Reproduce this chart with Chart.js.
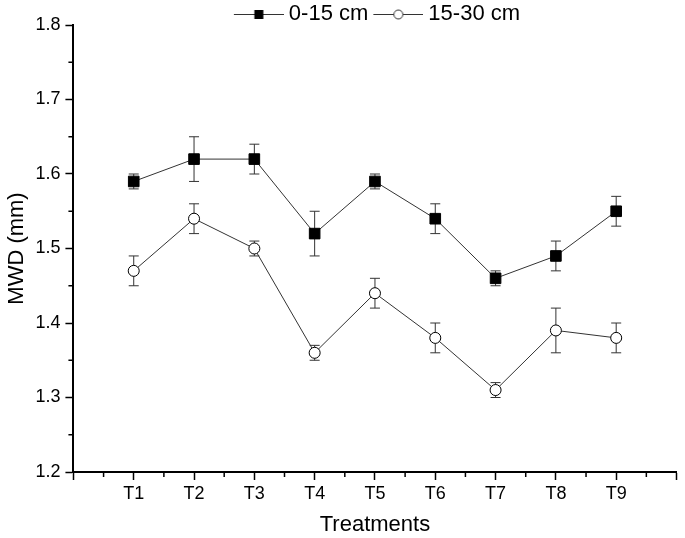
<!DOCTYPE html>
<html>
<head>
<meta charset="utf-8">
<script src="https://cdn.jsdelivr.net/npm/chart.js@4.4.0/dist/chart.umd.min.js"></script>
<style>
  html, body { margin: 0; padding: 0; background: #fff; }
  #wrap { width: 685px; height: 538px; }
</style>
</head>
<body>
<div id="wrap"><canvas id="mwd-chart" width="685" height="538"></canvas></div>
<script>
const categories = ["T1", "T2", "T3", "T4", "T5", "T6", "T7", "T8", "T9"];
const seriesNames = ["0-15 cm", "15-30 cm"];
const mwdTop = [1.59, 1.62, 1.62, 1.52, 1.59, 1.54, 1.46, 1.49, 1.55];
const errTop = [0.01, 0.03, 0.02, 0.03, 0.01, 0.02, 0.01, 0.02, 0.02];
const mwdSub = [1.47, 1.54, 1.50, 1.36, 1.44, 1.38, 1.31, 1.39, 1.38];
const errSub = [0.02, 0.02, 0.01, 0.01, 0.02, 0.02, 0.01, 0.03, 0.02];
const yMin = 1.2;
const yMax = 1.8;
const yStep = 0.1;

const FONT = "'Liberation Sans', Arial, sans-serif";
const INK = "#000";
const LINE = "#333";

// line+marker picture for the legend, line sits at the right of the canvas
function legendIcon(kind) {
  const c = document.createElement("canvas");
  c.width = 60;
  c.height = 14;
  const g = c.getContext("2d");
  g.strokeStyle = LINE;
  g.lineWidth = 1;
  g.beginPath();
  g.moveTo(10, 7.5);
  g.lineTo(60, 7.5);
  g.stroke();
  if (kind === "rect") {
    g.fillStyle = INK;
    g.fillRect(30.5, 3, 9, 9);
  } else {
    g.fillStyle = "#fff";
    g.beginPath();
    g.arc(35, 7.5, 4.5, 0, Math.PI * 2);
    g.fill();
    g.stroke();
  }
  return c;
}

const toPoints = vals => vals.map((v, i) => ({ x: i + 1, y: v }));

const errorBars = {
  id: "errorBars",
  beforeDatasetsDraw(chart) {
    const { ctx, scales: { y } } = chart;
    ctx.save();
    ctx.strokeStyle = LINE;
    ctx.lineWidth = 1;
    chart.data.datasets.forEach((ds, i) => {
      const meta = chart.getDatasetMeta(i);
      meta.data.forEach((pt, j) => {
        const v = ds.data[j].y;
        const e = ds.errors[j];
        const top = y.getPixelForValue(v + e);
        const bot = y.getPixelForValue(v - e);
        ctx.beginPath();
        ctx.moveTo(pt.x, top);
        ctx.lineTo(pt.x, bot);
        ctx.moveTo(pt.x - 5, top);
        ctx.lineTo(pt.x + 5, top);
        ctx.moveTo(pt.x - 5, bot);
        ctx.lineTo(pt.x + 5, bot);
        ctx.stroke();
      });
    });
    ctx.restore();
  }
};

const minorTicks = {
  id: "minorTicks",
  afterDraw(chart) {
    const { ctx, scales: { x, y } } = chart;
    ctx.save();
    ctx.strokeStyle = INK;
    ctx.lineWidth = 1.5;
    ctx.beginPath();
    for (let v = 0.5; v < categories.length + 1; v += 1) {
      const px = x.getPixelForValue(v);
      ctx.moveTo(px, x.top);
      ctx.lineTo(px, x.top + 5);
    }
    for (let v = yMin + yStep / 2; v < yMax; v += yStep) {
      const py = y.getPixelForValue(v);
      ctx.moveTo(y.right, py);
      ctx.lineTo(y.right - 5, py);
    }
    ctx.stroke();
    ctx.restore();
  }
};

// the legend reserves 10px of extra space below itself; take it back
const tightLegend = {
  id: "tightLegend",
  afterInit(chart) {
    const lg = chart.legend;
    if (!lg) return;
    const fit = lg.fit;
    lg.fit = function () {
      fit.call(this);
      this.height = Math.max(0, this.height - 10);
    };
  }
};

const icons = [legendIcon("rect"), legendIcon("circle")];

new Chart(document.getElementById("mwd-chart"), {
  type: "line",
  data: {
    datasets: [
      {
        label: seriesNames[0],
        data: toPoints(mwdTop),
        errors: errTop,
        borderColor: LINE,
        borderWidth: 1,
        pointStyle: "rect",
        pointRadius: 7.5,
        pointBackgroundColor: INK,
        pointBorderColor: INK,
        pointBorderWidth: 1
      },
      {
        label: seriesNames[1],
        data: toPoints(mwdSub),
        errors: errSub,
        borderColor: LINE,
        borderWidth: 1,
        pointStyle: "circle",
        pointRadius: 5.5,
        pointBackgroundColor: "#fff",
        pointBorderColor: INK,
        pointBorderWidth: 1
      }
    ]
  },
  options: {
    responsive: false,
    animation: false,
    layout: { padding: { top: 2, right: 2, bottom: 0, left: 2 } },
    plugins: {
      tooltip: { enabled: false },
      legend: {
        position: "top",
        fullSize: false,
        labels: {
          usePointStyle: true,
          pointStyleWidth: 48,
          padding: 1,
          color: INK,
          font: { family: FONT, size: 22 },
          generateLabels: chart => chart.data.datasets.map((ds, i) => ({
            text: ds.label,
            pointStyle: icons[i],
            fillStyle: INK,
            strokeStyle: LINE,
            lineWidth: 1,
            hidden: false,
            datasetIndex: i,
            fontColor: INK
          }))
        }
      }
    },
    scales: {
      x: {
        type: "linear",
        min: 0,
        max: categories.length + 1,
        grid: { drawOnChartArea: false, tickLength: 8, tickColor: INK, tickWidth: 1.5 },
        border: { display: true, color: INK, width: 2 },
        ticks: {
          stepSize: 1,
          autoSkip: false,
          maxRotation: 0,
          padding: 3,
          color: INK,
          font: { family: FONT, size: 18 },
          callback: v => categories[v - 1] || ""
        },
        title: {
          display: true,
          text: "Treatments",
          color: INK,
          font: { family: FONT, size: 22 },
          padding: { top: 4, bottom: 0 }
        }
      },
      y: {
        min: yMin,
        max: yMax,
        afterFit: scale => { scale.paddingTop = 0; scale.paddingBottom = 0; },
        grid: { drawOnChartArea: false, tickLength: 8, tickColor: INK, tickWidth: 1.5 },
        border: { display: true, color: INK, width: 2 },
        ticks: {
          stepSize: yStep,
          padding: 5,
          color: INK,
          font: { family: FONT, size: 18 },
          callback: v => v.toFixed(1)
        },
        title: {
          display: true,
          text: "MWD (mm)",
          color: INK,
          font: { family: FONT, size: 22 },
          padding: { top: 2, bottom: 0 }
        }
      }
    }
  },
  plugins: [errorBars, minorTicks, tightLegend]
});
</script>
</body>
</html>
